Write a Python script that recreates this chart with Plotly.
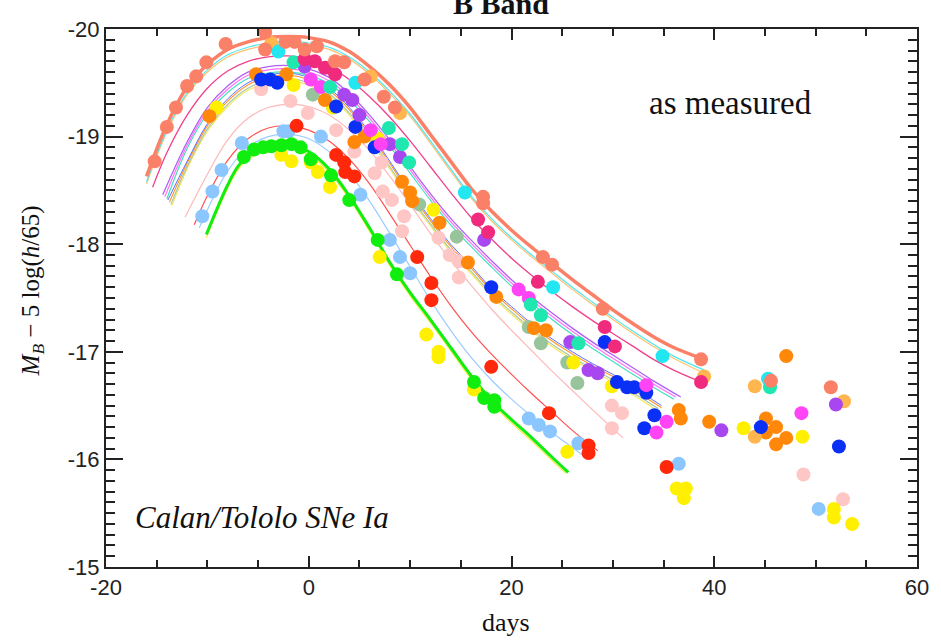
import plotly.graph_objects as go

# ---------------- measured points (day, M_B) by colour ----------------
salmon_day = [-15.2, -14.0, -13.1, -12.0, -11.1, -10.1, -8.2, -4.3, -4.3, -2.3, -1.4, -0.4, 0.8, 2.6, 3.5, 5.5, 7.4, 8.5, 17.2, 17.2, 23.1, 24.0, 29.0, 38.7, 45.6, 51.5]
salmon_mag = [-18.77, -19.09, -19.27, -19.47, -19.56, -19.69, -19.86, -19.97, -19.81, -19.88, -19.88, -19.81, -19.84, -19.70, -19.69, -19.53, -19.37, -19.27, -18.44, -18.38, -17.88, -17.81, -17.40, -16.93, -16.73, -16.67]

cyan_day = [-3.0, 4.6, 15.4, 24.1, 34.9, 45.3]
cyan_mag = [-19.79, -19.50, -18.48, -17.60, -16.96, -16.75]

lorange_day = [-3.7, 6.1, 9.0, 39.0, 44.0, 44.0, 52.8]
lorange_mag = [-19.87, -19.56, -19.22, -16.77, -16.68, -16.21, -16.54]

dpink_day = [-0.4, 0.6, 1.6, 2.6, 16.7, 17.7, 22.6, 29.2, 30.2, 38.7]
dpink_mag = [-19.72, -19.70, -19.64, -19.58, -18.23, -18.11, -17.65, -17.23, -17.05, -16.72]

teal_day = [-1.5, 2.1, 7.9, 9.2, 9.9, 21.9, 22.9, 26.6, 45.5]
teal_mag = [-19.69, -19.46, -19.08, -18.93, -18.76, -17.44, -17.34, -17.08, -16.67]

magenta_day = [0.2, 1.2, 6.1, 7.1, 20.7, 21.7, 33.3, 35.3, 34.3, 48.6]
magenta_mag = [-19.53, -19.46, -19.06, -18.93, -17.58, -17.50, -16.69, -16.35, -16.25, -16.43]

purple_day = [-0.4, 3.5, 4.3, 5.0, 8.0, 9.0, 17.3, 25.8, 27.6, 28.5, 40.7, 52.0]
purple_mag = [-19.65, -19.39, -19.34, -19.20, -18.93, -18.81, -18.04, -17.09, -16.83, -16.80, -16.27, -16.51]

blue_day = [-4.7, -3.8, -3.1, 2.7, 4.6, 6.5, 18.0, 29.2, 30.4, 31.4, 32.1, 33.3, 34.1, 33.1, 44.6, 52.3]
blue_mag = [-19.53, -19.53, -19.50, -19.28, -19.09, -18.90, -17.60, -17.09, -16.72, -16.67, -16.67, -16.62, -16.41, -16.29, -16.30, -16.12]

orange_day = [-9.8, -5.2, -2.2, 1.6, 4.5, 5.5, 9.2, 10.0, 10.2, 12.9, 15.7, 18.5, 22.2, 23.4, 36.5, 36.7, 39.5, 45.1, 45.1, 46.1, 46.1, 47.1, 47.1]
orange_mag = [-19.19, -19.58, -19.58, -19.34, -18.95, -19.00, -18.58, -18.48, -18.40, -18.20, -17.83, -17.51, -17.22, -17.20, -16.46, -16.38, -16.35, -16.38, -16.25, -16.30, -16.14, -16.20, -16.96]

sgreen_day = [0.4, 2.4, 10.9, 14.6, 21.7, 22.9, 25.5, 26.5]
sgreen_mag = [-19.39, -19.27, -18.37, -18.07, -17.23, -17.08, -16.90, -16.71]

yellow_day = [-9.1, -1.5, 2.4, 6.8, 12.3, 26.1, 29.9, -2.7, -1.7, 0.2, 0.9, 2.1, 7.0, 11.6, 12.8, 12.8, 16.3, 25.5, 36.3, 37.2, 37.0, 42.9, 48.7, 51.8, 51.8, 53.6]
yellow_mag = [-19.27, -19.48, -19.27, -18.98, -18.32, -16.90, -16.68, -18.83, -18.77, -18.76, -18.67, -18.53, -17.88, -17.16, -17.00, -16.95, -16.65, -16.07, -15.73, -15.73, -15.64, -16.29, -16.21, -15.54, -15.46, -15.40]

lpink_day = [-4.7, -1.8, -0.1, 2.7, 4.5, 6.5, 7.2, 7.3, 8.2, 9.4, 9.2, 12.8, 13.9, 14.8, 14.8, 29.9, 30.9, 29.9, 48.8, 52.7]
lpink_mag = [-19.44, -19.33, -19.22, -19.06, -18.86, -18.66, -18.76, -18.49, -18.41, -18.26, -18.12, -18.06, -17.90, -17.84, -17.69, -16.50, -16.43, -16.29, -15.86, -15.63]

red_day = [-1.2, 2.7, 3.5, 3.6, 4.5, 10.7, 12.1, 12.1, 18.0, 23.7, 27.6, 27.6, 35.3]
red_mag = [-19.10, -18.83, -18.76, -18.67, -18.63, -17.88, -17.64, -17.48, -16.86, -16.43, -16.13, -16.06, -15.93]

lblue_day = [-10.5, -9.5, -8.6, -6.6, -2.5, -2.0, 1.2, 5.1, 8.0, 9.0, 10.0, 21.7, 22.7, 23.8, 26.6, 36.5, 50.3]
lblue_mag = [-18.26, -18.49, -18.69, -18.94, -19.05, -19.05, -19.00, -18.46, -18.04, -17.88, -17.73, -16.38, -16.32, -16.26, -16.15, -15.96, -15.54]

green_day = [-6.4, -5.4, -4.5, -3.7, -2.7, -1.7, -0.8, 0.2, 2.2, 4.0, 6.8, 8.7, 16.3, 17.3, 18.3, 18.3]
green_mag = [-18.81, -18.88, -18.90, -18.91, -18.92, -18.93, -18.90, -18.79, -18.64, -18.41, -18.04, -17.72, -16.72, -16.57, -16.55, -16.49]

# ---------------- fitted template curves (day, M_B) ----------------
fit_salmon_day = [-16, -14, -12, -10, -8, -6, -4, -2, 0, 2, 4, 6, 8, 10, 12, 14, 16, 18, 20, 22, 24, 26, 28, 30, 32, 34, 36, 39]
fit_salmon_mag = [-18.63, -19.11, -19.46, -19.67, -19.81, -19.88, -19.92, -19.93, -19.92, -19.88, -19.79, -19.65, -19.48, -19.27, -19.02, -18.77, -18.52, -18.31, -18.13, -17.97, -17.82, -17.67, -17.53, -17.39, -17.26, -17.14, -17.04, -16.93]

fit_cyan_day = [-16, -14, -12, -10, -8, -6, -4, -2, 0, 2, 4, 6, 8, 10, 12, 14, 16, 18, 20, 22, 24, 26, 28, 30, 32, 34, 36, 39]
fit_cyan_mag = [-18.58, -19.06, -19.41, -19.62, -19.76, -19.83, -19.87, -19.88, -19.87, -19.83, -19.74, -19.60, -19.42, -19.21, -18.96, -18.70, -18.45, -18.24, -18.06, -17.90, -17.75, -17.60, -17.46, -17.32, -17.19, -17.07, -16.96, -16.83]

fit_lorange_day = [-16, -14, -12, -10, -8, -6, -4, -2, 0, 2, 4, 6, 8, 10, 12, 14, 16, 18, 20, 22, 24, 26, 28, 30, 32, 34, 36, 39]
fit_lorange_mag = [-18.56, -19.04, -19.39, -19.60, -19.74, -19.81, -19.85, -19.86, -19.85, -19.81, -19.72, -19.58, -19.40, -19.19, -18.94, -18.68, -18.43, -18.22, -18.04, -17.88, -17.73, -17.58, -17.44, -17.30, -17.17, -17.05, -16.94, -16.80]

fit_dpink_day = [-15.4, -14, -12, -10, -8, -6, -4, -2, 0, 2, 4, 6, 8, 10, 12, 14, 16, 18, 20, 22, 24, 26, 28, 30, 32, 34, 36, 38.7]
fit_dpink_mag = [-18.53, -18.85, -19.20, -19.45, -19.61, -19.70, -19.74, -19.75, -19.72, -19.65, -19.53, -19.37, -19.18, -18.96, -18.72, -18.48, -18.25, -18.05, -17.87, -17.71, -17.56, -17.42, -17.29, -17.17, -17.05, -16.93, -16.83, -16.72]

fit_purple_day = [-14.4, -12, -10, -8, -6, -4, -2, 0, 2, 4, 6, 8, 10, 12, 14, 16, 18, 20, 22, 24, 26, 28, 30, 32, 34, 36.7]
fit_purple_mag = [-18.46, -18.95, -19.27, -19.47, -19.60, -19.65, -19.66, -19.63, -19.55, -19.40, -19.20, -18.97, -18.72, -18.47, -18.24, -18.04, -17.85, -17.67, -17.51, -17.36, -17.22, -17.09, -16.97, -16.85, -16.73, -16.58]

fit_magenta_day = [-14.2, -12, -10, -8, -6, -4, -2, 0, 2, 4, 6, 8, 10, 12, 14, 16, 18, 20, 22, 24, 26, 28, 30, 32, 34, 36.2]
fit_magenta_mag = [-18.44, -18.92, -19.24, -19.44, -19.57, -19.62, -19.63, -19.60, -19.52, -19.37, -19.17, -18.94, -18.69, -18.44, -18.21, -18.01, -17.82, -17.64, -17.48, -17.33, -17.19, -17.06, -16.94, -16.82, -16.70, -16.58]

fit_teal_day = [-14.0, -12, -10, -8, -6, -4, -2, 0, 2, 4, 6, 8, 10, 12, 14, 16, 18, 20, 22, 24, 26, 28, 30, 32, 34, 36.0]
fit_teal_mag = [-18.42, -18.89, -19.21, -19.41, -19.54, -19.59, -19.60, -19.57, -19.49, -19.34, -19.14, -18.91, -18.66, -18.41, -18.18, -17.98, -17.79, -17.61, -17.45, -17.30, -17.16, -17.03, -16.91, -16.79, -16.67, -16.56]

fit_blue_day = [-13.9, -12, -10, -8, -6, -4, -2, 0, 2, 4, 6, 8, 10, 12, 14, 16, 18, 20, 22, 24, 26, 28, 30, 32, 34.8]
fit_blue_mag = [-18.41, -18.77, -19.12, -19.35, -19.50, -19.57, -19.59, -19.55, -19.45, -19.27, -19.04, -18.77, -18.49, -18.24, -18.00, -17.80, -17.59, -17.42, -17.26, -17.12, -17.00, -16.89, -16.79, -16.67, -16.50]

fit_orange_day = [-13.75, -12, -10, -8, -6, -4, -2, 0, 2, 4, 6, 8, 10, 12, 14, 16, 18, 20, 22, 24, 26, 28, 30, 32, 34.8]
fit_orange_mag = [-18.39, -18.75, -19.10, -19.33, -19.48, -19.55, -19.57, -19.53, -19.43, -19.25, -19.02, -18.75, -18.47, -18.22, -17.98, -17.78, -17.57, -17.40, -17.24, -17.10, -16.98, -16.87, -16.77, -16.65, -16.48]

fit_sgreen_day = [-13.6, -12, -10, -8, -6, -4, -2, 0, 2, 4, 6, 8, 10, 12, 14, 16, 18, 20, 22, 24, 26, 28, 30, 32, 34.5]
fit_sgreen_mag = [-18.37, -18.72, -19.07, -19.30, -19.45, -19.52, -19.54, -19.50, -19.40, -19.22, -18.99, -18.72, -18.44, -18.19, -17.95, -17.75, -17.54, -17.37, -17.21, -17.07, -16.95, -16.84, -16.74, -16.62, -16.47]

fit_yellow1_day = [-13.5, -12, -10, -8, -6, -4, -2, 0, 2, 4, 6, 8, 10, 12, 14, 16, 18, 20, 22, 24, 26, 28, 30, 32, 34.3]
fit_yellow1_mag = [-18.36, -18.70, -19.05, -19.28, -19.43, -19.50, -19.52, -19.48, -19.38, -19.20, -18.97, -18.70, -18.42, -18.17, -17.93, -17.73, -17.52, -17.35, -17.19, -17.05, -16.93, -16.82, -16.72, -16.60, -16.46]

fit_lpink_day = [-12.2, -10, -8, -6, -4, -2, 0, 2, 4, 6, 8, 10, 12, 14, 16, 18, 20, 22, 24, 26, 28, 31]
fit_lpink_mag = [-18.25, -18.65, -18.97, -19.17, -19.27, -19.30, -19.28, -19.20, -19.06, -18.87, -18.63, -18.37, -18.10, -17.85, -17.62, -17.40, -17.20, -17.01, -16.82, -16.64, -16.46, -16.20]

fit_red_day = [-11.3, -10, -8, -6, -4, -2, 0, 2, 4, 6, 8, 10, 12, 14, 16, 18, 20, 22, 24, 26, 28.5]
fit_red_mag = [-18.18, -18.45, -18.78, -18.98, -19.08, -19.10, -19.06, -18.96, -18.79, -18.56, -18.28, -17.99, -17.70, -17.43, -17.19, -16.98, -16.79, -16.61, -16.44, -16.27, -16.08]

fit_lblue_day = [-10.8, -10, -8, -6, -4, -2, 0, 2, 4, 6, 8, 10, 12, 14, 16, 18, 20, 22, 24, 26, 27.6]
fit_lblue_mag = [-18.15, -18.32, -18.68, -18.90, -19.00, -19.02, -18.98, -18.86, -18.66, -18.40, -18.10, -17.79, -17.48, -17.20, -16.95, -16.74, -16.56, -16.40, -16.25, -16.11, -16.00]

fit_yellow2_day = [-10.1, -9, -8, -7, -6, -4, -2, 0, 2, 4, 6, 8, 10, 12, 14, 16, 18, 20, 22, 24, 25.4]
fit_yellow2_mag = [-18.06, -18.31, -18.52, -18.69, -18.79, -18.87, -18.89, -18.83, -18.67, -18.42, -18.12, -17.80, -17.52, -17.27, -17.01, -16.75, -16.52, -16.34, -16.17, -15.99, -15.87]

fit_green_day = [-10.1, -9, -8, -7, -6, -4, -2, 0, 2, 4, 6, 8, 10, 12, 14, 16, 18, 20, 22, 24, 25.6]
fit_green_mag = [-18.09, -18.34, -18.55, -18.72, -18.82, -18.90, -18.92, -18.86, -18.70, -18.45, -18.15, -17.83, -17.55, -17.30, -17.04, -16.78, -16.55, -16.37, -16.20, -16.02, -15.88]

# axis ticks
x_tick_vals = [-20, 0, 20, 40, 60]
x_tick_text = ['-20', '0', '20', '40', '60']
y_tick_vals = [-20, -19, -18, -17, -16, -15]
y_tick_text = ['-20', '-19', '-18', '-17', '-16', '-15']

C = dict(salmon='#FA8068', cyan='#22E6F0', lorange='#FFB64E', dpink='#F02A7C', purple='#A846F0',
         magenta='#FF44F6', teal='#20E6B0', blue='#0A30F6', orange='#FF880A', sgreen='#98C49C',
         yellow='#FFF000', lpink='#FFC6C6', red='#FF280A', lblue='#8CC6FF', green='#10EE10')

fig = go.Figure()

curves = [
    (fit_lpink_day, fit_lpink_mag, '#FFB8B8', 1.2),
    (fit_red_day, fit_red_mag, '#FF5050', 1.2),
    (fit_lblue_day, fit_lblue_mag, '#9CCCFF', 1.2),
    (fit_yellow2_day, fit_yellow2_mag, '#F4EA40', 1.2),
    (fit_yellow1_day, fit_yellow1_mag, '#F4E860', 1.2),
    (fit_sgreen_day, fit_sgreen_mag, '#A8C8A8', 1.2),
    (fit_orange_day, fit_orange_mag, '#FF9A30', 1.2),
    (fit_blue_day, fit_blue_mag, '#6070FF', 1.0),
    (fit_teal_day, fit_teal_mag, '#40E0C0', 1.2),
    (fit_magenta_day, fit_magenta_mag, '#FF70F8', 1.2),
    (fit_purple_day, fit_purple_mag, '#B060F4', 1.3),
    (fit_dpink_day, fit_dpink_mag, '#F0408A', 1.3),
    (fit_lorange_day, fit_lorange_mag, '#FFC070', 1.2),
    (fit_cyan_day, fit_cyan_mag, '#50E8F0', 1.2),
    (fit_salmon_day, fit_salmon_mag, C['salmon'], 3.5),
    (fit_green_day, fit_green_mag, C['green'], 3.0),
]
for d, m, col, w in curves:
    fig.add_trace(go.Scatter(x=d, y=m, mode='lines', line=dict(color=col, width=w, shape='spline'),
                             hoverinfo='skip', showlegend=False))

points = [
    (lpink_day, lpink_mag, C['lpink']),
    (sgreen_day, sgreen_mag, C['sgreen']),
    (yellow_day, yellow_mag, C['yellow']),
    (lblue_day, lblue_mag, C['lblue']),
    (green_day, green_mag, C['green']),
    (red_day, red_mag, C['red']),
    (orange_day, orange_mag, C['orange']),
    (lorange_day, lorange_mag, C['lorange']),
    (blue_day, blue_mag, C['blue']),
    (purple_day, purple_mag, C['purple']),
    (magenta_day, magenta_mag, C['magenta']),
    (teal_day, teal_mag, C['teal']),
    (cyan_day, cyan_mag, C['cyan']),
    (dpink_day, dpink_mag, C['dpink']),
    (salmon_day, salmon_mag, C['salmon']),
]
for d, m, col in points:
    fig.add_trace(go.Scatter(x=d, y=m, mode='markers', marker=dict(color=col, size=14, line=dict(width=0)),
                             showlegend=False, cliponaxis=True))

axis_col = '#222222'
fig.update_xaxes(range=[-20, 60], tickmode='array', tickvals=x_tick_vals, ticktext=x_tick_text,
                 ticks='inside', ticklen=11, tickwidth=2, tickcolor=axis_col,
                 showline=True, linecolor=axis_col, linewidth=2, mirror='allticks',
                 showgrid=False, zeroline=False,
                 tickfont=dict(family='Liberation Sans, Arial, sans-serif', size=22, color='#222'),
                 minor=dict(tickmode='linear', tick0=-20, dtick=5, ticks='inside', ticklen=7,
                            tickwidth=1.5, tickcolor=axis_col, showgrid=False))
fig.update_yaxes(range=[-15, -20], tickmode='array', tickvals=y_tick_vals, ticktext=y_tick_text,
                 ticks='inside', ticklen=17, tickwidth=2, tickcolor=axis_col,
                 showline=True, linecolor=axis_col, linewidth=2, mirror='allticks',
                 showgrid=False, zeroline=False,
                 tickfont=dict(family='Liberation Sans, Arial, sans-serif', size=22, color='#222'),
                 minor=dict(tickmode='linear', tick0=-20, dtick=0.1, ticks='inside', ticklen=9,
                            tickwidth=1.5, tickcolor=axis_col, showgrid=False))

serif = 'Liberation Serif, Times New Roman, serif'
fig.update_layout(
    width=941, height=640,
    margin=dict(l=106, r=16, t=29, b=73),
    plot_bgcolor='white', paper_bgcolor='white', showlegend=False,
    annotations=[
        dict(text='as measured', x=0.7705, y=0.863, xref='paper', yref='paper', showarrow=False,
             xanchor='center', yanchor='middle', font=dict(family=serif, size=33, color='#111')),
        dict(text='<i>Calan/Tololo SNe Ia</i>', x=0.033, y=0.0912, xref='paper', yref='paper', showarrow=False,
             xanchor='left', yanchor='middle', font=dict(family=serif, size=31, color='#111')),
        dict(text='days', x=0.4933, y=-0.104, xref='paper', yref='paper', showarrow=False,
             xanchor='center', yanchor='middle', font=dict(family=serif, size=26, color='#111')),
        dict(text='<i>M</i><sub><i>B</i></sub> − 5 log(<i>h</i>/65)', x=-0.0904, y=0.5135,
             xref='paper', yref='paper', showarrow=False, textangle=-90,
             xanchor='center', yanchor='middle', font=dict(family=serif, size=25, color='#111')),
        dict(text='<b>B Band</b>', x=0.487, y=1.047, xref='paper', yref='paper', showarrow=False,
             xanchor='center', yanchor='middle', font=dict(family=serif, size=30, color='#111')),
    ],
)

fig.write_html('out.html')
